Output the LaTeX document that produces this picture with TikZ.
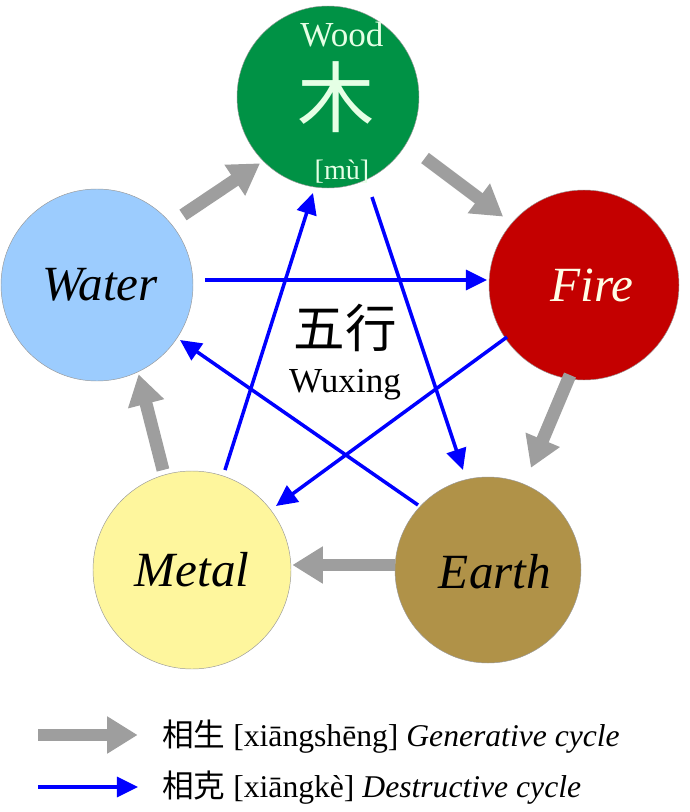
\documentclass[tikz,border=0pt]{standalone}
\usepackage{fontspec}
\setmainfont{Liberation Serif}
\newfontfamily\cjk{Noto Sans CJK SC}
\usetikzlibrary{arrows.meta}
\begin{document}
\begin{tikzpicture}[x=0.03cm,y=-0.03cm,
  el/.style={circle,draw=black!40,line width=0.4pt,inner sep=0pt},
  gen/.style={draw=black!38,line width=11pt,-{Triangle[length=26pt,width=30pt]},shorten >=2pt},
  des/.style={draw=blue,line width=3pt,-{Triangle[length=18pt,width=17pt]}},
  lab/.style={font=\itshape\fontsize{42}{42}\selectfont}]
\useasboundingbox (0,0) rectangle (689,812);
\definecolor{woodc}{RGB}{0,146,69}
\definecolor{firec}{RGB}{196,0,0}
\definecolor{earthc}{RGB}{176,146,72}
\definecolor{metalc}{RGB}{254,246,157}
\definecolor{waterc}{RGB}{156,204,254}
\node[el,fill=woodc,minimum size=182*0.03cm] (wood) at (328,97) {};
\node[el,fill=firec,minimum size=190*0.03cm] (fire) at (584,285) {};
\node[el,fill=earthc,minimum size=186*0.03cm] (earth) at (488,570) {};
\node[el,fill=metalc,minimum size=198*0.03cm] (metal) at (192,570) {};
\node[el,fill=waterc,minimum size=192*0.03cm] (water) at (97,285) {};
\node[text=white!90!green,font=\fontsize{30}{30}\selectfont] (woodt) at (342,35) {Wood};
\node[text=white!90!green,font=\cjk\fontsize{66}{66}\selectfont] (mu) at (336,97) {木};
\node[text=white!90!green,font=\fontsize{24}{24}\selectfont] (mup) at (342,172) {[mù]};
\node[lab,text=white!90!yellow] (firet) at (592,285) {Fire};
\node[lab] (watert) at (100,285) {Water};
\node[lab] (metalt) at (192,570) {Metal};
\node[lab] (eartht) at (495,572) {Earth};
\node[font=\cjk\fontsize{44}{44}\selectfont] (wx) at (345,328) {五行};
\node[font=\fontsize{30}{30}\selectfont] (wxl) at (345,385) {Wuxing};
\coordinate (g1a) at (183,215); \coordinate (g1b) at (262,162);
\coordinate (g2a) at (425,158); \coordinate (g2b) at (505,218);
\coordinate (g3a) at (570,375); \coordinate (g3b) at (530,470);
\coordinate (g4a) at (395,565); \coordinate (g4b) at (290,565);
\coordinate (g5a) at (163,470); \coordinate (g5b) at (138,372);
\draw[gen] (g1a) -- (g1b);
\draw[gen] (g2a) -- (g2b);
\draw[gen] (g3a) -- (g3b);
\draw[gen] (g4a) -- (g4b);
\draw[gen] (g5a) -- (g5b);
\coordinate (b1a) at (205,280); \coordinate (b1b) at (487,280);
\coordinate (b2a) at (507,337); \coordinate (b2b) at (276,506);
\coordinate (b3a) at (225,470); \coordinate (b3b) at (313,193);
\coordinate (b4a) at (372,197); \coordinate (b4b) at (463,470);
\coordinate (b5a) at (418,505); \coordinate (b5b) at (180,340);
\draw[des] (b1a) -- (b1b);
\draw[des] (b2a) -- (b2b);
\draw[des] (b3a) -- (b3b);
\draw[des] (b4a) -- (b4b);
\draw[des] (b5a) -- (b5b);
\coordinate (l1a) at (38,735); \coordinate (l1b) at (140,735);
\coordinate (l2a) at (38,787); \coordinate (l2b) at (138,787);
\draw[gen] (l1a) -- (l1b);
\draw[des] (l2a) -- (l2b);
\node[anchor=west,font=\fontsize{27}{27}\selectfont] (t1) at (158,737) {{\cjk 相生} [xiāngshēng] \textit{Generative cycle}};
\node[anchor=west,font=\fontsize{27}{27}\selectfont] (t2) at (158,788) {{\cjk 相克} [xiāngkè] \textit{Destructive cycle}};
\end{tikzpicture}
\end{document}
